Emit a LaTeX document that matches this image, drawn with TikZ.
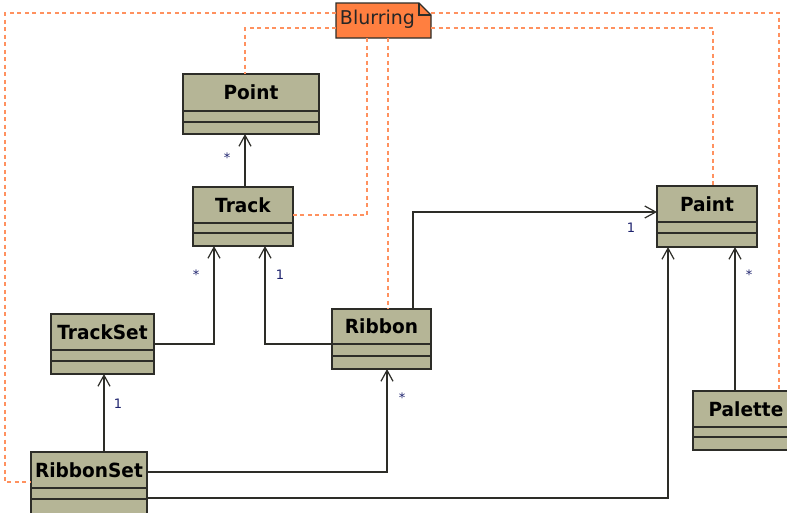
\documentclass[tikz,border=0pt]{standalone}
\usepackage{fontspec}
\setmainfont{DejaVu Sans}
\newfontfamily\classfont[FakeStretch=0.95]{DejaVu Sans Bold}
\usetikzlibrary{arrows.meta,calc}

\definecolor{classfill}{RGB}{181,181,150}
\definecolor{classline}{RGB}{45,45,40}
\definecolor{notefill}{RGB}{255,127,64}
\definecolor{notelinkc}{RGB}{255,145,95}
\definecolor{multc}{RGB}{30,35,110}

\tikzset{
  classbox/.style={draw=classline, fill=classfill, line width=1.5pt,
    rectangle, inner sep=0pt, outer sep=0pt, anchor=north west},
  classname/.style={font=\classfont\fontsize{19.5}{21}\selectfont, text=black,
    inner sep=0pt},
  divider/.style={draw=classline, line width=1.4pt},
  assoc/.style={draw=classline, line width=1.3pt,
    -{Straight Barb[length=11pt,width=12pt,line width=1.2pt]}},
  notelink/.style={draw=notelinkc, line width=1.4pt, dash pattern=on 4pt off 3.5pt},
  mult/.style={font=\fontsize{13}{14}\selectfont, text=multc, inner sep=0pt},
}

% box name, label, x, y, width, height, first divider y, second divider y
\newcommand{\umlclass}[8]{%
  \node[classbox, minimum width=#5pt, minimum height=#6pt] (#1) at (#3,#4) {};
  \node[classname] (#1-name) at ($(#1.north)!0.5!(#1.north |- 0,#7)$) {#2};
  \draw[divider] (#1.west |- 0,#7) -- (#1.east |- 0,#7);
  \draw[divider] (#1.west |- 0,#8) -- (#1.east |- 0,#8);
}

\begin{document}
\begin{tikzpicture}[x=1pt, y=-1pt]
  \useasboundingbox (0,0) rectangle (787,512);
  \clip (0,0) rectangle (787,512);
  \fill[white] (0,0) rectangle (787,512);

  % classes
  \umlclass{point}{Point}{183}{74}{136}{60}{111}{122}
  \umlclass{track}{Track}{193}{187}{100}{59}{223}{233}
  \umlclass{trackset}{TrackSet}{51}{314}{103}{60}{350}{361}
  \umlclass{ribbon}{Ribbon}{332}{309}{99}{60}{344}{356}
  \umlclass{paint}{Paint}{657}{186}{100}{61}{222}{233}
  \umlclass{palette}{Palette}{693}{391}{106}{59}{427}{437}
  \umlclass{ribbonset}{RibbonSet}{31}{452}{116}{62}{488}{499}

  % note
  \node[minimum width=95pt, minimum height=35pt, inner sep=0pt, outer sep=0pt,
        anchor=north west] (note) at (336,3) {};
  \filldraw[fill=notefill, draw=classline, line width=1.2pt, line join=miter]
    (note.north west) -- ([xshift=-12pt]note.north east)
    -- ([yshift=-12pt]note.north east) -- (note.south east)
    -- (note.south west) -- cycle;
  \draw[classline, line width=1.1pt]
    ([xshift=-12pt]note.north east) -- ([xshift=-12pt,yshift=-12pt]note.north east)
    -- ([yshift=-12pt]note.north east);
  \node[font=\fontsize{19}{21}\selectfont, text=black!85, inner sep=0pt]
    (note-text) at ([xshift=-6pt,yshift=1pt]note.center) {Blurring};

  % note attachments
  \draw[notelink] (note.west |- 0,13) -- (5,13) -- (5,482) -- (ribbonset.west |- 0,482);
  \draw[notelink] (note.west |- 0,28) -- (245,28) -- (point.north -| 245,0);
  \draw[notelink] (note.south -| 367,0) -- (367,215) -- (track.east |- 0,215);
  \draw[notelink] (note.south -| 388,0) -- (ribbon.north -| 388,0);
  \draw[notelink] (note.east |- 0,28) -- (713,28) -- (paint.north -| 713,0);
  \draw[notelink] (note.east |- 0,13) -- (779,13) -- (palette.north -| 779,0);

  % associations
  \draw[assoc] (track.north -| 245,0) -- (point.south -| 245,0);
  \draw[assoc] (trackset.east |- 0,344) -- (214,344) -- (track.south -| 214,0);
  \draw[assoc] (ribbon.west |- 0,344) -- (265,344) -- (track.south -| 265,0);
  \draw[assoc] (ribbon.north -| 413,0) -- (413,212) -- (paint.west |- 0,212);
  \draw[assoc] (ribbonset.north -| 104,0) -- (trackset.south -| 104,0);
  \draw[assoc] (ribbonset.east |- 0,472) -- (387,472) -- (ribbon.south -| 387,0);
  \draw[assoc] (ribbonset.east |- 0,498) -- (668,498) -- (paint.south -| 668,0);
  \draw[assoc] (palette.north -| 735,0) -- (paint.south -| 735,0);

  % multiplicities
  \node[mult] (m-point) at (227,158) {*};
  \node[mult] (m-trackset) at (196,275) {*};
  \node[mult] (m-ribbon-track) at (280,275) {1};
  \node[mult] (m-paint) at (631,228) {1};
  \node[mult] (m-ribbonset) at (118,404) {1};
  \node[mult] (m-ribbon) at (402,398) {*};
  \node[mult] (m-palette) at (749,275) {*};
\end{tikzpicture}
\end{document}
